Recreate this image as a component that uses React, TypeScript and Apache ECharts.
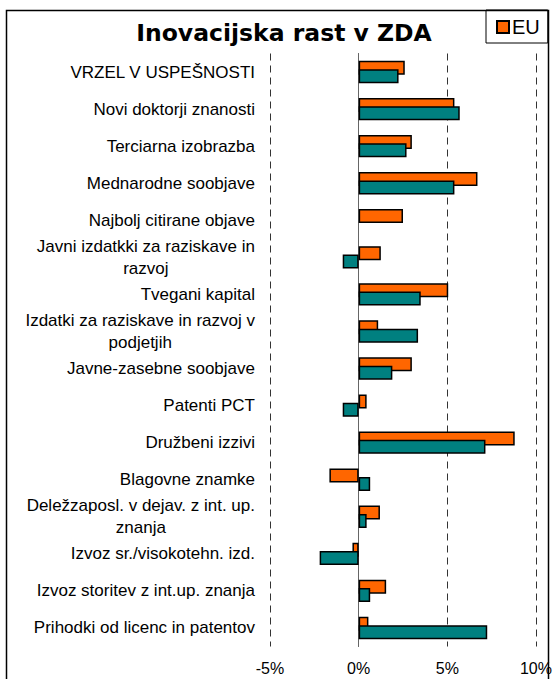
import React, { useEffect, useRef } from "react";
import * as echarts from "echarts";

const titleText = "Inovacijska rast v ZDA";
const categories = [
  "VRZEL V USPEŠNOSTI",
  "Novi doktorji znanosti",
  "Terciarna izobrazba",
  "Mednarodne soobjave",
  "Najbolj citirane objave",
  "Javni izdatkki za raziskave in razvoj",
  "Tvegani kapital",
  "Izdatki za raziskave in razvoj v podjetjih",
  "Javne-zasebne soobjave",
  "Patenti PCT",
  "Družbeni izzivi",
  "Blagovne znamke",
  "Deležzaposl. v dejav. z int. up. znanja",
  "Izvoz sr./visokotehn. izd.",
  "Izvoz storitev z int.up. znanja",
  "Prihodki od licenc in patentov",
];
const euValues = [2.6, 5.4, 3.0, 6.7, 2.5, 1.25, 5.05, 1.1, 3.0, 0.45, 8.8, -1.65, 1.2, -0.35, 1.55, 0.55];
const zdaValues = [2.25, 5.7, 2.7, 5.4, null, -0.9, 3.5, 3.35, 1.9, -0.9, 7.15, 0.65, 0.45, -2.2, 0.65, 7.25];
const seriesNames = ["EU", "ZDA"];
const xMin = -5;
const xMax = 10;
const xStep = 5;

const LABEL_FONT = "Liberation Sans";

function wrapLabel(s: string): string {
  if (s.length <= 32) return s;
  const idx = s.lastIndexOf(" ", 32);
  const a = s.slice(0, idx);
  const b = s.slice(idx + 1);
  return `{a|${a}}\n{b|${b}}`;
}

export default function App() {
  const ref = useRef<HTMLDivElement>(null);
  useEffect(() => {
    if (!ref.current) return;
    const chart = echarts.init(ref.current, undefined, { renderer: "svg" });
    chart.setOption({
      animation: false,
      backgroundColor: "#fff",
      title: {
        text: titleText,
        left: 279,
        top: 16,
        textAlign: "center",
        textStyle: {
          fontFamily: "DejaVu Sans",
          fontWeight: "bold",
          fontSize: 23.5,
          color: "#000",
        },
      },
      legend: {
        data: ["EU"],
        left: 486,
        top: 10,
        orient: "horizontal",
        borderColor: "#000",
        borderWidth: 1,
        padding: [7, 8, 6, 10],
        itemWidth: 12,
        itemHeight: 12,
        itemGap: 6,
        icon: "rect",
        textStyle: { fontFamily: LABEL_FONT, fontSize: 20, color: "#000", padding: [0, 0, 0, -2] },
      },
      graphic: [
        {
          type: "rect",
          shape: { x: 6.5, y: 10.5, width: 542, height: 720 },
          style: { fill: "none", stroke: "#000", lineWidth: 1.5 },
          z: -1,
          silent: true,
        },
      ],
      grid: { left: 270, right: 18, top: 53.5, bottom: 32.5, containLabel: false },
      xAxis: {
        type: "value",
        min: xMin,
        max: xMax,
        interval: xStep,
        axisLine: { show: false },
        axisTick: { show: false },
        axisLabel: {
          formatter: (v: number) => `${v}%`,
          fontFamily: LABEL_FONT,
          fontSize: 16,
          color: "#000",
          margin: 14,
        },
        splitLine: {
          show: true,
          lineStyle: { type: [7, 5], color: "#333", width: 1 },
        },
      },
      yAxis: {
        type: "category",
        data: categories,
        inverse: true,
        axisLine: { show: true, onZero: true, lineStyle: { color: "#666", width: 1 } },
        axisTick: { show: false },
        axisLabel: {
          interval: 0,
          margin: 15,
          align: "right",
          fontFamily: LABEL_FONT,
          fontSize: 17,
          color: "#000",
          lineHeight: 22,
          formatter: (v: string) => wrapLabel(v),
          rich: {
            a: { align: "right", fontFamily: LABEL_FONT, fontSize: 17, color: "#000", lineHeight: 22 },
            b: { align: "center", fontFamily: LABEL_FONT, fontSize: 17, color: "#000", lineHeight: 22 },
          },
        },
        splitLine: { show: false },
      },
      series: [
        {
          name: seriesNames[0],
          type: "bar",
          data: euValues,
          barWidth: 14,
          barGap: "-40%",
          itemStyle: { color: "#FF6600", borderColor: "#000", borderWidth: 1.5 },
          z: 2,
        },
        {
          name: seriesNames[1],
          type: "bar",
          data: zdaValues,
          barWidth: 14,
          barGap: "-40%",
          itemStyle: { color: "#008080", borderColor: "#000", borderWidth: 1.5 },
          z: 3,
        },
      ],
    });
    return () => chart.dispose();
  }, []);
  return (
    <div
      ref={ref}
      style={{ position: "absolute", left: 0, top: 0, width: 555, height: 679 }}
    />
  );
}
